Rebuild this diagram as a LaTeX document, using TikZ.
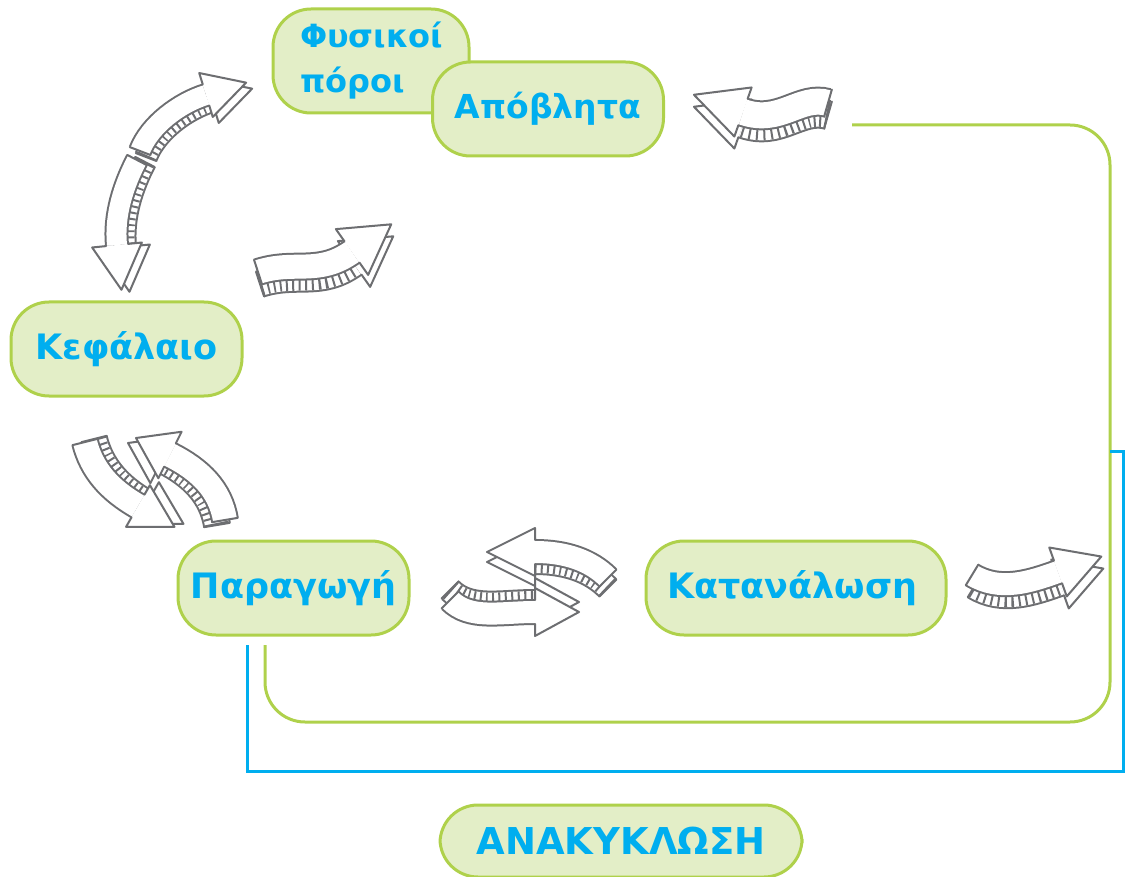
\documentclass[tikz,border=0pt]{standalone}
\usepackage{fontspec}
\newfontfamily\lblfont{DejaVu Sans}
\definecolor{skgray}{HTML}{6D6E71}
\definecolor{boxfill}{HTML}{E3EEC7}
\definecolor{boxline}{HTML}{AFD14B}
\definecolor{txtblue}{HTML}{00AEEF}
\tikzset{
  box/.style={rectangle, draw=boxline, fill=boxfill, line width=3pt, rounded corners=38pt,
    minimum height=94pt, inner sep=0pt, text=txtblue, font=\lblfont\bfseries\fontsize{35}{40}\selectfont},
  greenline/.style={draw=boxline, line width=3pt, rounded corners=40pt},
  blueline/.style={draw=txtblue, line width=3pt},
  skout/.style={skgray, line width=2pt, line join=round, line cap=round},
}
% parameters: body width, head half width, head length, extrusion shift
\newcommand\skset[5]{\def\skW{#1}\def\skH{#2}\def\skL{#3}\def\skdx{#4}\def\skdy{#5}%
  \pgfmathsetmacro\skWo{#1+4}}
\newcommand\skend[4]{% from (#1,#2) towards (#3,#4): tail edge at (#1,#2)
  \pgfmathsetmacro\skang{atan2(-((#4)-(#2)), (#3)-(#1))}%
  \begin{scope}[shift={(#1,#2)}, rotate=\skang]
    \draw[skout] (0,\skW/2+1) -- (0,-\skW/2-1);
  \end{scope}}
\newcommand\skheadtip[4]{% c2x c2y ex ey
  \pgfmathsetmacro\skang{atan2(-((#4)-(#2)), (#3)-(#1))}%
  \begin{scope}[shift={(#3,#4)}, rotate=\skang]
    \fill[white] (0,\skH) -- (\skL,0) -- (0,-\skH) -- cycle;
    \draw[skout] (0,\skW/2+1) -- (0,\skH) -- (\skL,0) -- (0,-\skH) -- (0,-\skW/2-1);
  \end{scope}}
% #1 #2 start, #3 #4 first control, #5 #6 second control, #7 #8 end
\newcommand\skarrow[8]{%
  \begin{scope}[shift={(\skdx,\skdy)}]
    \draw[skgray, line width=\skWo pt] (#1,#2) .. controls (#3,#4) and (#5,#6) .. (#7,#8);
    \draw[white, line width=\skW pt] (#1,#2) .. controls (#3,#4) and (#5,#6) .. (#7,#8);
    \draw[skgray, line width=\skW pt, dash pattern=on 2pt off 4.5pt] (#1,#2) .. controls (#3,#4) and (#5,#6) .. (#7,#8);
    \skend{#1}{#2}{#3}{#4}
    \skheadtip{#5}{#6}{#7}{#8}
  \end{scope}
  \draw[skgray, line width=\skWo pt] (#1,#2) .. controls (#3,#4) and (#5,#6) .. (#7,#8);
  \draw[white, line width=\skW pt] (#1,#2) .. controls (#3,#4) and (#5,#6) .. (#7,#8);
  \skend{#1}{#2}{#3}{#4}
  \skheadtip{#5}{#6}{#7}{#8}
}
\begin{document}
\begin{tikzpicture}[x=1pt, y=-1pt]
\useasboundingbox (0,0) rectangle (1130,877);

% connectors
\coordinate (g1) at (852,125);
\coordinate (g2) at (265,645);
\coordinate (gc1) at (1110,125);
\coordinate (gc2) at (1110,722);
\coordinate (gc3) at (265,722);
\draw[greenline] (g1) -- (gc1) -- (gc2) -- (gc3) -- (g2);
\coordinate (b1) at (247,645);
\coordinate (bc1) at (247,771);
\coordinate (bc2) at (1123,771);
\coordinate (bc3) at (1123,451);
\coordinate (b2) at (1110,451);
\draw[blueline] (b1) -- (bc1) -- (bc2) -- (bc3) -- (b2);

% boxes
\node[box, minimum width=196pt, minimum height=104pt, text width=142pt, align=left,
  font=\lblfont\bfseries\fontsize{32}{45}\selectfont] (fp) at (371,61) {Φυσικοί\\πόροι};
\node[box, minimum width=231pt, font=\lblfont\bfseries\fontsize{33}{40}\selectfont] (ap) at (548,109) {Απόβλητα};
\node[box, minimum width=231pt] (kef) at (126.5,349) {Κεφάλαιο};
\node[box, minimum width=231pt] (par) at (293.5,588) {Παραγωγή};
\node[box, minimum width=300pt, text width=258pt, align=left] (kat) at (796,588) {Κατανάλωση};
\node[box, minimum width=362pt, minimum height=72pt, font=\lblfont\bfseries\fontsize{37}{40}\selectfont] (ana) at (621,841) {ΑΝΑΚΥΚΛΩΣΗ};

% sketchy arrows
\skset{20}{23}{42}{6}{6}
\skarrow{140}{151}{150}{125}{180}{103}{206}{95}
\skset{20}{25}{45}{8}{2}
\skarrow{137}{160}{124}{185}{114}{215}{117}{245}
\skset{24}{28}{48}{2}{12}
\skarrow{258}{272}{295}{260}{318}{276}{352}{252}
\skset{26}{26}{52}{0}{12}
\skarrow{828}{103}{800}{95}{780}{125}{743}{112}
\skset{24}{24}{42}{9}{-3}
\skarrow{85}{442}{92}{470}{110}{490}{138}{506}
\skset{24}{26}{38}{-8}{5}
\skarrow{225}{520}{220}{490}{200}{470}{170}{455}
\skset{22}{24}{48}{0}{10}
\skarrow{608}{578}{590}{560}{565}{552}{535}{552}
\skset{22}{24}{44}{0}{-10}
\skarrow{450}{600}{470}{620}{500}{612}{535}{612}
\skset{22}{26}{46}{2}{12}
\skarrow{972}{575}{1000}{592}{1030}{582}{1058}{572}
\end{tikzpicture}
\end{document}
